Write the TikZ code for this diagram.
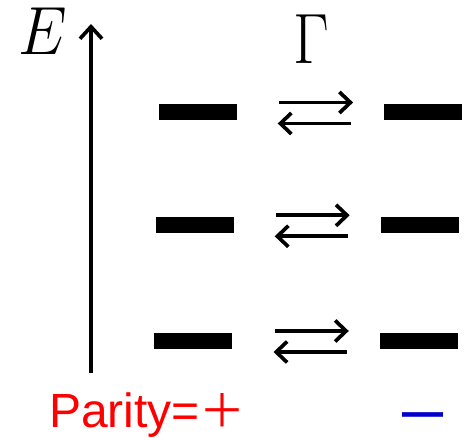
\RequirePackage{fix-cm}
\documentclass[tikz,border=0pt]{standalone}
\usepackage{fontspec}
\setmainfont{Liberation Sans}
\newfontfamily\cjk{Noto Sans CJK SC}
\newfontfamily\dejavu{DejaVu Sans}
\usetikzlibrary{arrows.meta}
\definecolor{parred}{RGB}{255,0,0}
\definecolor{parblue}{RGB}{0,0,204}
\tikzset{
  bar/.style={fill=black, draw=none, inner sep=0pt, minimum width=78pt, minimum height=16pt},
  rate/.style={line width=3.7pt, -{Straight Barb[length=11pt,width=21pt]}},
  topr/.style={rate, shorten <=42.5pt, shorten >=31pt},
  botr/.style={rate, shorten <=33pt, shorten >=41pt},
  axis/.style={line width=3.7pt, -{Straight Barb[length=12pt,width=22pt]}},
  biglabel/.style={inner sep=0pt, font=\fontsize{62}{62}\selectfont}
}
\begin{document}
\begin{tikzpicture}[x=1pt,y=-1pt]
\useasboundingbox (0,0) rectangle (467,438);
% energy axis
\coordinate (ab) at (91,373);
\coordinate (at) at (91,24);
\draw[axis] (ab) -- (at);
\node[biglabel] (E) at (42.5,31.5) {\scalebox{1}[1.1]{$E$}};
\node[biglabel] (G) at (311,39) {\scalebox{1}[1.15]{$\Gamma$}};
% levels
\node[bar] (L1) at (197.5,112.5) {};
\node[bar] (R1) at (423.3,112.5) {};
\node[bar] (L2) at (194.5,225.3) {};
\node[bar] (R2) at (419.9,225.3) {};
\node[bar] (L3) at (193.3,341) {};
\node[bar] (R3) at (419,341) {};
% transitions
\foreach \i in {1,2,3}{
  \draw[topr] ([yshift=10pt]L\i.east) -- ([yshift=10pt]R\i.west);
  \draw[botr] ([yshift=-11pt]R\i.west) -- ([yshift=-11pt]L\i.east);
}
% parity labels
\node[anchor=base west, inner sep=0pt, text=parred, font=\fontsize{48}{48}\selectfont] (P) at (49,428) {Parity={\cjk\fontsize{46}{46}\selectfont ＋}};
\node[anchor=base, inner sep=0pt, text=parblue, font=\dejavu\bfseries\fontsize{40}{40}\selectfont] (M) at (422.5,428) {\scalebox{1.64}[1]{−}};
\end{tikzpicture}
\end{document}
